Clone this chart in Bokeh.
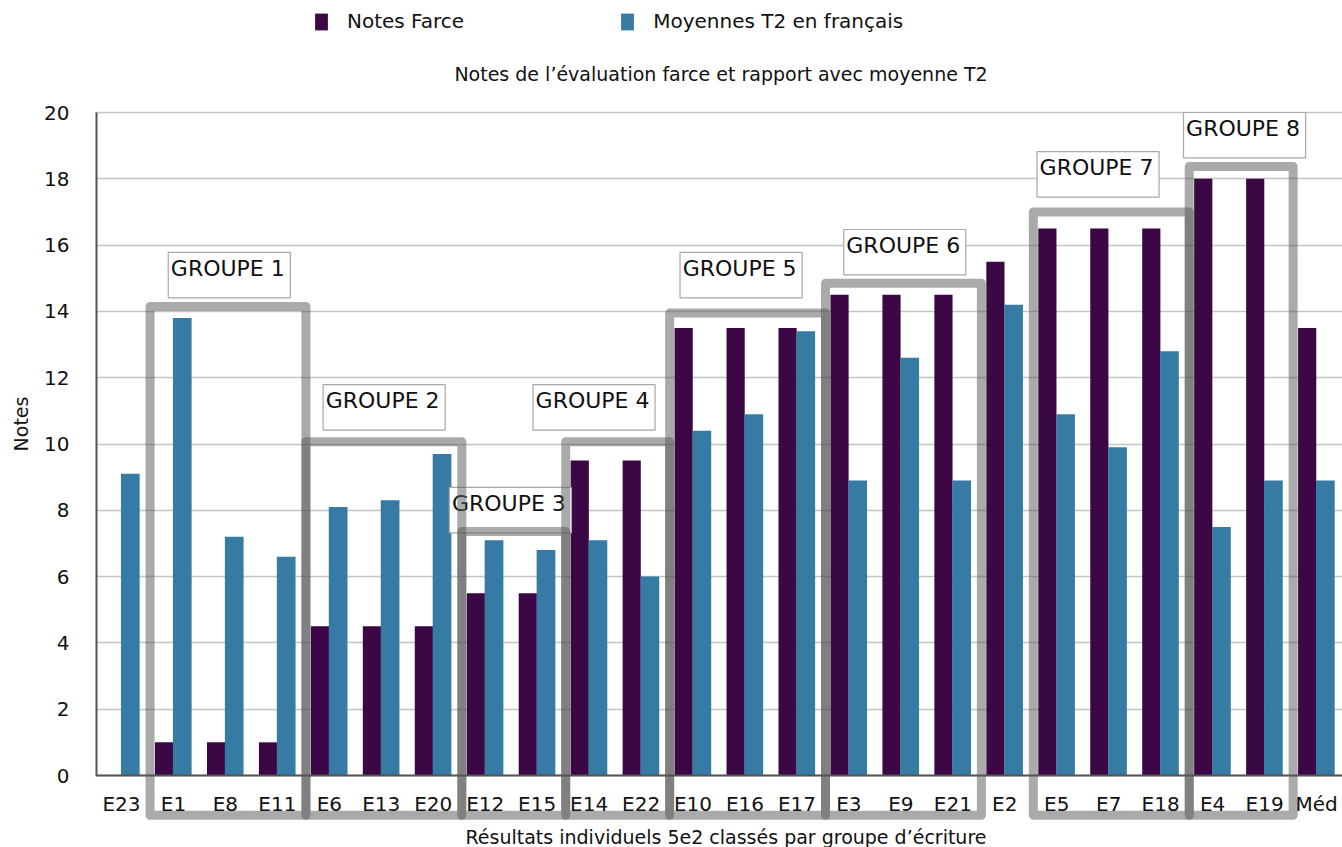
from bokeh.plotting import figure
from bokeh.models import (ColumnDataSource, FactorRange, FixedTicker, Legend,
                          LegendItem, Label, Range1d)
from bokeh.transform import dodge
from bokeh.core.properties import value
from bokeh.embed import file_html
from bokeh.resources import INLINE

# ---------------- data ----------------
students = ["E23", "E1", "E8", "E11", "E6", "E13", "E20", "E12", "E15", "E14",
            "E22", "E10", "E16", "E17", "E3", "E9", "E21", "E2", "E5", "E7",
            "E18", "E4", "E19", "Méd"]
notes_farce = [0, 1, 1, 1, 4.5, 4.5, 4.5, 5.5, 5.5, 9.5, 9.5, 13.5, 13.5, 13.5,
               14.5, 14.5, 14.5, 15.5, 16.5, 16.5, 16.5, 18, 18, 13.5]
moyennes_t2 = [9.1, 13.8, 7.2, 6.6, 8.1, 8.3, 9.7, 7.1, 6.8, 7.1, 6.0, 10.4,
               10.9, 13.4, 8.9, 12.6, 8.9, 14.2, 10.9, 9.9, 12.8, 7.5, 8.9, 8.9]
y_ticks = [0, 2, 4, 6, 8, 10, 12, 14, 16, 18, 20]

group_names = ["GROUPE 1", "GROUPE 2", "GROUPE 3", "GROUPE 4",
               "GROUPE 5", "GROUPE 6", "GROUPE 7", "GROUPE 8"]
group_first = ["E1", "E6", "E12", "E14", "E10", "E3", "E5", "E4"]
group_last = ["E11", "E20", "E15", "E22", "E17", "E21", "E18", "E19"]
group_top = [14.15, 10.07, 7.36, 10.07, 13.95, 14.85, 17.0, 18.37]

# annotation layout (label boxes)
label_top = [15.78, 11.79, 8.69, 11.79, 15.78, 16.47, 18.82, 20.0]
label_dx = [-0.10, -0.12, -0.69, -1.08, -0.25, -0.10, -0.38, -0.56]

FONT = "DejaVu Sans"
PURPLE = "#3b0745"
BLUE = "#367ba3"
TXT = "#111111"

W, H = 1342, 847
BL = 95                 # frame starts at x=95; frame covers the full height
Y0_PX, PX_PER_UNIT = 775, 33.15

p = figure(width=W, height=H,
           x_range=FactorRange(*students, range_padding=0),
           y_range=Range1d(-(H - Y0_PX) / PX_PER_UNIT, Y0_PX / PX_PER_UNIT),
           output_backend="svg", toolbar_location=None,
           min_border_left=BL, min_border_right=0,
           min_border_top=0, min_border_bottom=0)
p.outline_line_color = None

src = ColumnDataSource(dict(student=students, farce=notes_farce, t2=moyennes_t2))
r1 = p.vbar(x=dodge("student", -0.18, range=p.x_range), top="farce", width=0.35,
            source=src, fill_color=PURPLE, line_color=None)
r2 = p.vbar(x=dodge("student", 0.17, range=p.x_range), top="t2", width=0.36,
            source=src, fill_color=BLUE, line_color=None)

# grid / axes
p.xgrid.grid_line_color = None
p.ygrid.ticker = FixedTicker(ticks=y_ticks)
p.ygrid.grid_line_color = "#c4c4c4"
p.ygrid.grid_line_width = 1.6

p.yaxis.ticker = FixedTicker(ticks=y_ticks)
p.yaxis.axis_line_color = None
p.yaxis.major_tick_line_color = None
p.yaxis.minor_tick_line_color = None
p.yaxis.major_label_text_font = FONT
p.yaxis.major_label_text_font_size = "20px"
p.yaxis.major_label_text_color = TXT
p.yaxis.major_label_standoff = 20
p.yaxis.axis_label = "Notes"
p.yaxis.axis_label_text_font = FONT
p.yaxis.axis_label_text_font_size = "19px"
p.yaxis.axis_label_text_font_style = "normal"
p.yaxis.axis_label_text_color = TXT
p.yaxis.axis_label_standoff = 9

p.xaxis.fixed_location = 0
p.xaxis.axis_line_color = "#555555"
p.xaxis.axis_line_width = 2
p.xaxis.major_tick_line_color = None
p.xaxis.minor_tick_line_color = None
p.xaxis.major_label_text_font = FONT
p.xaxis.major_label_text_font_size = "20px"
p.xaxis.major_label_text_color = TXT
p.xaxis.major_label_standoff = 10

# left axis line from 0 to 20
p.segment(x0=[(students[0], -0.5)], y0=[y_ticks[0]], x1=[(students[0], -0.5)],
          y1=[y_ticks[-1]], line_color="#555555", line_width=4)

# group label boxes
lab = ColumnDataSource(dict(
    left=[(f, dx) for f, dx in zip(group_first, label_dx)],
    right=[(f, dx + 2.35) for f, dx in zip(group_first, label_dx)],
    tx=[(f, dx + 0.05) for f, dx in zip(group_first, label_dx)],
    top=label_top,
    bottom=[t - 1.37 for t in label_top],
    ty=[t - 0.1 for t in label_top],
    name=group_names))
p.quad(left="left", right="right", top="top", bottom="bottom", source=lab,
       fill_color="white", line_color="#a8a8a8", line_width=1.2)
p.text(x="tx", y="ty", text="name", source=lab, text_font=value(FONT),
       text_font_size="22px", text_baseline="top", text_align="left",
       text_color=TXT)

# group frames
grp = ColumnDataSource(dict(
    left=[(f, -0.45) for f in group_first],
    right=[(l, 0.55) for l in group_last],
    top=group_top,
    bottom=[-1.2] * len(group_top)))
p.quad(left="left", right="right", top="top", bottom="bottom", source=grp,
       fill_color=None, line_color="#555555", line_alpha=0.5, line_width=9,
       line_join="round")

# titles (screen units relative to the frame's bottom-left corner)
FRAME_W = W - BL
p.add_layout(Label(text="Notes de l’évaluation farce et rapport avec moyenne T2",
                   x=FRAME_W / 2 + 2, y=H - 73, x_units="screen", y_units="screen",
                   text_align="center", text_baseline="middle",
                   text_font=FONT, text_font_size="19px", text_color=TXT))
p.add_layout(Label(text="Résultats individuels 5e2 classés par groupe d’écriture",
                   x=FRAME_W / 2 + 7, y=H - 836, x_units="screen", y_units="screen",
                   text_align="center", text_baseline="middle",
                   text_font=FONT, text_font_size="19px", text_color=TXT))

legend = Legend(items=[LegendItem(label="Notes Farce", renderers=[r1]),
                       LegendItem(label="Moyennes T2 en français", renderers=[r2])],
                orientation="horizontal", location=(218, H - 33),
                padding=0, margin=0, spacing=155, label_standoff=18,
                glyph_width=16, glyph_height=21,
                label_text_font=FONT, label_text_font_size="20px",
                label_text_color=TXT,
                border_line_color=None, background_fill_alpha=0)
p.add_layout(legend, "center")

open("out.html", "w").write(file_html(p, INLINE))
